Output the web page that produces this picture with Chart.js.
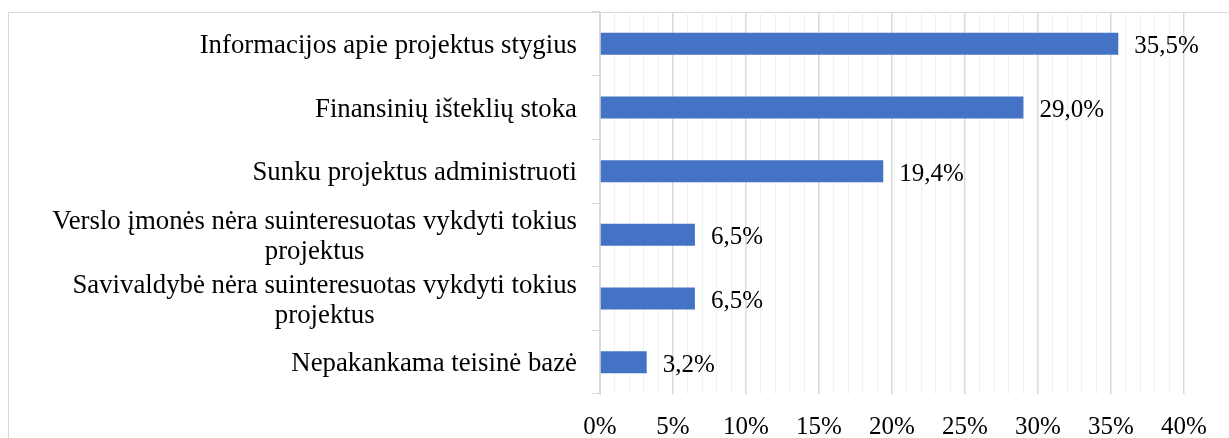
<!DOCTYPE html>
<html>
<head>
<meta charset="utf-8">
<script src="https://cdn.jsdelivr.net/npm/chart.js@4"></script>
<style>
  html, body { margin: 0; padding: 0; background: #fff; }
  #wrap { width: 1229px; height: 438px; }
</style>
</head>
<body>
<div id="wrap"><canvas id="chart" width="1229" height="438"></canvas></div>
<script>
// --- DATI ---
const categories = [
  "Informacijos apie projektus stygius",
  "Finansinių išteklių stoka",
  "Sunku projektus administruoti",
  ["Verslo įmonės nėra suinteresuotas vykdyti tokius", "projektus"],
  ["Savivaldybė nėra suinteresuotas vykdyti tokius", "projektus"],
  "Nepakankama teisinė bazė"
];
const values = [35.5, 29.0, 19.4, 6.5, 6.5, 3.2];

const font = "'Liberation Serif', 'Times New Roman', serif";

// etichette a destra delle barre
const valueLabels = {
  id: "valueLabels",
  afterDatasetsDraw(chart) {
    const ctx = chart.ctx;
    const meta = chart.getDatasetMeta(0);
    ctx.save();
    ctx.font = "25px " + font;
    ctx.fillStyle = "#000";
    ctx.textBaseline = "middle";
    ctx.textAlign = "left";
    meta.data.forEach((bar, i) => {
      const txt = values[i].toFixed(1).replace(".", ",") + "%";
      ctx.fillText(txt, bar.x + 16, bar.y + 3);
    });
    ctx.restore();
  }
};

// etichette delle categorie: blocco allineato a destra, righe centrate
const categoryLabels = {
  id: "categoryLabels",
  afterDraw(chart) {
    const ctx = chart.ctx;
    const y = chart.scales.y;
    const right = chart.chartArea.left - 23;
    ctx.save();
    ctx.font = "26.8px " + font;
    ctx.fillStyle = "#000";
    ctx.textBaseline = "middle";
    ctx.textAlign = "center";
    categories.forEach((lab, i) => {
      const lines = Array.isArray(lab) ? lab : [lab];
      const maxW = Math.max(...lines.map(l => ctx.measureText(l).width));
      const cx = right - maxW / 2;
      const cy = y.getPixelForValue(i);
      lines.forEach((l, j) => {
        ctx.fillText(l, cx, cy + (j - (lines.length - 1) / 2) * 30 + 2);
      });
    });
    ctx.restore();
  }
};

// cornice esterna
const frame = {
  id: "frame",
  beforeDraw(chart) {
    const ctx = chart.ctx;
    ctx.save();
    ctx.strokeStyle = "#d9d9d9";
    ctx.lineWidth = 1;
    ctx.beginPath();
    ctx.moveTo(8.5, 440);
    ctx.lineTo(8.5, 12.5);
    ctx.lineTo(1230, 12.5);
    ctx.stroke();
    ctx.restore();
  }
};

new Chart(document.getElementById("chart"), {
  type: "bar",
  data: {
    labels: categories,
    datasets: [{
      data: values,
      backgroundColor: "#4472C4",
      barPercentage: 0.345,
      categoryPercentage: 1
    }]
  },
  plugins: [frame, valueLabels, categoryLabels],
  options: {
    indexAxis: "y",
    responsive: false,
    animation: false,
    layout: { padding: { left: 8, right: 45, top: 12, bottom: 0 } },
    plugins: { legend: { display: false }, tooltip: { enabled: false } },
    scales: {
      x: {
        min: 0,
        max: 40,
        afterFit: s => { s.height = 44; s.paddingLeft = 0; s.paddingRight = 0; },
        border: { display: false },
        grid: {
          drawTicks: false,
          color: c => (c.tick && c.tick.value % 5 === 0) ? "#d9d9d9" : "#f0f0f0",
          lineWidth: c => (c.tick && c.tick.value % 5 === 0) ? 1.5 : 1
        },
        ticks: {
          stepSize: 1,
          autoSkip: false,
          maxRotation: 0,
          padding: 18,
          color: "#000",
          font: { family: font, size: 25 },
          callback: v => (v % 5 === 0 ? v + "%" : "")
        }
      },
      y: {
        afterFit: s => { s.width = 592; s.paddingTop = 0; s.paddingBottom = 0; },
        border: { display: true, color: "#d9d9d9", width: 1 },
        grid: {
          drawOnChartArea: false,
          color: "#d9d9d9",
          tickLength: 8
        },
        ticks: {
          padding: 15,
          color: "rgba(0,0,0,0)",
          font: { family: font, size: 20 }
        }
      }
    }
  }
});
</script>
</body>
</html>
